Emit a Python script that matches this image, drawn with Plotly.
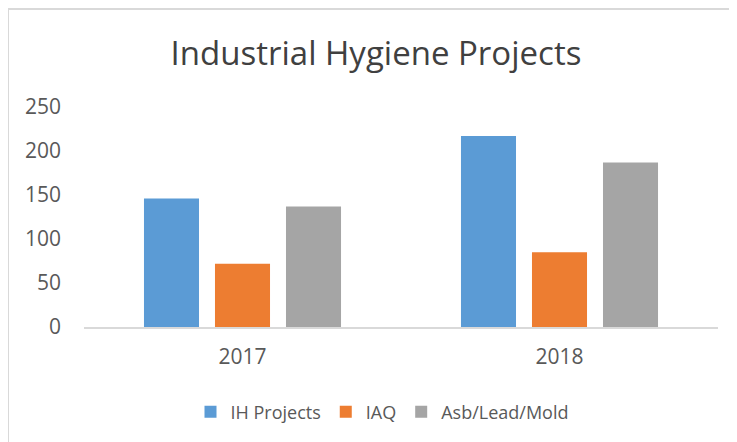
import plotly.graph_objects as go

categories = ["2017", "2018"]
ih_projects = [146, 217]
iaq = [72, 85]
asb_lead_mold = [137, 187]
series_names = ["IH Projects", "IAQ", "Asb/Lead/Mold"]
colors = ["#5B9BD5", "#ED7D31", "#A5A5A5"]
y_ticks = [0, 50, 100, 150, 200, 250]

W, H = 737, 442
L, R, T, B = 76, 27, 99, 123
PW, PH = W - L - R, H - T - B

fig = go.Figure()
for name, vals, col in zip(series_names, [ih_projects, iaq, asb_lead_mold], colors):
    fig.add_trace(go.Bar(x=categories, y=vals, name=name, marker=dict(color=col, line=dict(width=0))))

font_family = "Open Sans, Lato, sans-serif"
text_col = "#595959"
fig.update_layout(
    width=W, height=H,
    paper_bgcolor="white", plot_bgcolor="white",
    margin=dict(l=L, r=R, t=T, b=B),
    barmode="group", bargap=0.328, bargroupgap=0.225,
    title=dict(text="Industrial Hygiene Projects", x=368/W, xref="container", xanchor="center",
               y=1-45/H, yref="container", yanchor="middle",
               font=dict(family=font_family, size=33, color="#404040")),
    xaxis=dict(showline=True, linecolor="#D9D9D9", linewidth=2, showgrid=False, ticks="",
               tickfont=dict(family=font_family, size=21, color=text_col), ticklabelstandoff=10),
    yaxis=dict(range=[0, 250], tickvals=y_ticks, showgrid=False, zeroline=False, showline=False,
               tickfont=dict(family=font_family, size=21, color=text_col), ticklabelstandoff=22),
    legend=dict(orientation="h", xref="container", yref="container", x=374/W, y=1-404/H,
                xanchor="center", yanchor="middle",
                font=dict(family=font_family, size=18, color=text_col), itemwidth=30),
    shapes=[
        dict(type="line", xref="paper", yref="paper", x0=(0-L)/PW, x1=(W-L)/PW,
             y0=(H-B-1)/PH, y1=(H-B-1)/PH, line=dict(color="#D9D9D9", width=2)),
        dict(type="line", xref="paper", yref="paper", x0=(0-L)/PW, x1=(0-L)/PW,
             y0=(H-B-1)/PH, y1=-B/PH, line=dict(color="#D9D9D9", width=2)),
    ],
)
fig.write_html("out.html")
